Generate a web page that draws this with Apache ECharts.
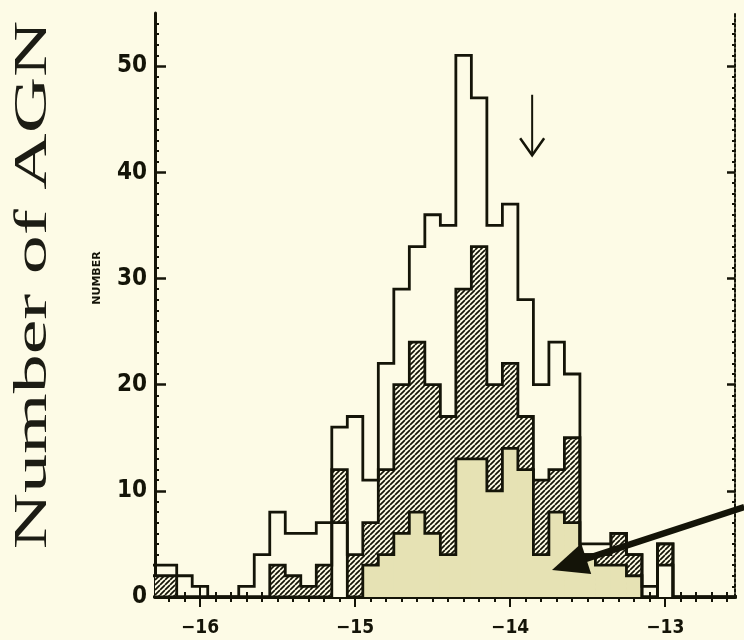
<!DOCTYPE html>
<html>
<head>
<meta charset="utf-8">
<script src="https://cdn.jsdelivr.net/npm/echarts@6/dist/echarts.min.js"></script>
<style>
  html, body { margin: 0; padding: 0; background: #fdfbe6; }
  #chart { width: 744px; height: 640px; }
</style>
</head>
<body>
<div id="chart"></div>
<script>
// Histogram bins: centres in log flux, width 0.1
const binCenters = [-16.3, -16.2, -16.1, -16.0, -15.9, -15.8, -15.7, -15.6, -15.5, -15.4,
                    -15.3, -15.2, -15.1, -15.0, -14.9, -14.8, -14.7, -14.6, -14.5, -14.4,
                    -14.3, -14.2, -14.1, -14.0, -13.9, -13.8, -13.7, -13.6, -13.5, -13.4,
                    -13.3, -13.2, -13.1, -13.0, -12.9, -12.8, -12.7, -12.6];
// All sources (open histogram)
const countAll = [3, 3, 2, 1, 0, 0, 1, 4, 8, 6,
                  6, 7, 16, 17, 11, 22, 29, 33, 36, 35,
                  51, 47, 35, 37, 28, 20, 24, 21, 5, 5,
                  6, 4, 1, 5, 0, 0, 0, 0];
// Hatched subset
const countHatched = [2, 2, 0, 0, 0, 0, 0, 0, 3, 2,
                      1, 3, 12, 4, 7, 12, 20, 24, 20, 17,
                      29, 33, 20, 22, 17, 11, 12, 15, 4, 4,
                      6, 4, 0, 5, 0, 0, 0, 0];
// Inner subset (solid)
const countInner = [0, 0, 0, 0, 0, 0, 0, 0, 0, 0,
                    0, 0, 7, 0, 3, 4, 6, 8, 6, 4,
                    13, 13, 10, 14, 12, 4, 8, 7, 4, 3,
                    3, 2, 0, 3, 0, 0, 0, 0];
const xTickValues = [-16, -15, -14, -13];
const yTickValues = [0, 10, 20, 30, 40, 50];

// Annotation arrows, in data coordinates
const bigArrowTail = [-12.49, 8.47];
const bigArrowTip = [-13.73, 2.54];
const markerArrowTop = [-13.858, 47.3];
const markerArrowTip = [-13.858, 41.6];

const BIN = 0.1;
const XMIN = -16.29, XMAX = -12.55, YMAX = 55;
const BG = '#fdfbe6';
const INK = '#141408';
const BEIGE = '#e6e2b4';
const SHADE_FROM = -14.95, SHADE_TO = -13.15;   // shaded part of the inner histogram

const r1 = v => Math.round(v * 10) / 10;
const xMinor = [];
for (let v = -16.2; v <= -12.6 + 1e-9; v += 0.1) xMinor.push(r1(v));
const yMinor = [];
for (let v = 1; v < YMAX; v++) if (v % 10) yMinor.push(v);

function pairs(counts) { return binCenters.map((c, i) => [c, counts[i]]); }
function padded(counts) {
  return [[r1(binCenters[0] - BIN), 0]].concat(pairs(counts),
         [[r1(binCenters[binCenters.length - 1] + BIN), 0]]);
}

function makeHatch() {
  const s = 5;
  const c = document.createElement('canvas');
  c.width = c.height = s;
  const g = c.getContext('2d');
  g.fillStyle = BG; g.fillRect(0, 0, s, s);
  g.strokeStyle = INK; g.lineWidth = 1.7;
  g.beginPath();
  for (const k of [-s, 0, s]) { g.moveTo(k, s); g.lineTo(k + s, 0); }
  g.stroke();
  return c;
}
const hatch = { image: makeHatch(), repeat: 'repeat' };

function fillSeries(counts, fillFor, z) {
  return {
    type: 'custom', z: z, clip: true, silent: true,
    data: pairs(counts),
    renderItem: function (params, api) {
      const c = api.value(0), v = api.value(1);
      if (v <= 0) return null;
      const p0 = api.coord([c - BIN / 2, v]);
      const p1 = api.coord([c + BIN / 2, 0]);
      return {
        type: 'rect',
        shape: { x: p0[0] - 0.4, y: p0[1], width: p1[0] - p0[0] + 0.8, height: p1[1] - p0[1] },
        style: { fill: fillFor(c), stroke: null }
      };
    }
  };
}
function outlineSeries(counts, z) {
  return {
    type: 'line', z: z, step: 'middle', symbol: 'none', clip: true, silent: true,
    data: padded(counts),
    lineStyle: { color: INK, width: 2.8, join: 'miter' }
  };
}

const axisFont = { color: INK, fontWeight: 'bold', fontFamily: '"Liberation Sans Narrow", "DejaVu Sans Condensed", "DejaVu Sans", sans-serif' };

function xAxes() {
  const base = { type: 'value', min: XMIN, max: XMAX, splitLine: { show: false } };
  return [
    Object.assign({}, base, {
      position: 'bottom',
      axisLine: { show: true, lineStyle: { color: INK, width: 2, type: [3, 2] } },
      axisTick: { show: true, inside: true, length: 10, customValues: xTickValues, lineStyle: { color: INK, width: 2 } },
      axisLabel: Object.assign({ customValues: xTickValues, margin: 22, fontSize: 19,
        formatter: v => '\u2212' + Math.abs(v) }, axisFont)
    }),
    Object.assign({}, base, {
      position: 'bottom',
      axisLine: { show: false },
      axisTick: { show: true, inside: true, length: 5, customValues: xMinor, lineStyle: { color: INK, width: 2 } },
      axisLabel: { show: false }
    }),
    Object.assign({}, base, {
      position: 'top',
      axisLine: { show: true, lineStyle: { color: INK, width: 3 } },
      axisTick: { show: true, inside: true, length: 10, customValues: xTickValues, lineStyle: { color: INK, width: 2 } },
      axisLabel: { show: false }
    }),
    Object.assign({}, base, {
      position: 'top',
      axisLine: { show: false },
      axisTick: { show: true, inside: true, length: 5, customValues: xMinor, lineStyle: { color: INK, width: 2 } },
      axisLabel: { show: false }
    })
  ];
}
function yAxes() {
  const base = { type: 'value', min: 0, max: YMAX, splitLine: { show: false } };
  return [
    Object.assign({}, base, {
      position: 'left',
      axisLine: { show: true, lineStyle: { color: INK, width: 3 } },
      axisTick: { show: true, inside: true, length: 11, customValues: yTickValues, lineStyle: { color: INK, width: 2.5 } },
      axisLabel: Object.assign({ customValues: yTickValues, margin: 8, fontSize: 24 }, axisFont)
    }),
    Object.assign({}, base, {
      position: 'left',
      axisLine: { show: false },
      axisTick: { show: true, inside: true, length: 4, customValues: yMinor, lineStyle: { color: INK, width: 2 } },
      axisLabel: { show: false }
    }),
    Object.assign({}, base, {
      position: 'right',
      axisLine: { show: true, lineStyle: { color: INK, width: 2, type: [3, 2] } },
      axisTick: { show: true, inside: true, length: 8, customValues: yTickValues, lineStyle: { color: INK, width: 2.5 } },
      axisLabel: { show: false }
    }),
    Object.assign({}, base, {
      position: 'right',
      axisLine: { show: false },
      axisTick: { show: true, inside: true, length: 3, customValues: yMinor, lineStyle: { color: INK, width: 2 } },
      axisLabel: { show: false }
    })
  ];
}

const chart = echarts.init(document.getElementById('chart'), null, { renderer: 'canvas' });
chart.setOption({
  animation: false,
  backgroundColor: BG,
  grid: { left: 155, right: 9, top: 13, bottom: 43 },
  xAxis: xAxes(),
  yAxis: yAxes(),
  series: [
    fillSeries(countHatched, () => hatch, 2),
    fillSeries(countInner, c => (c > SHADE_FROM && c < SHADE_TO) ? BEIGE : BG, 3),
    outlineSeries(countAll, 4),
    outlineSeries(countHatched, 5),
    outlineSeries(countInner, 6)
  ]
});

// Titles and arrows, placed through the chart's own coordinate conversion
const toPx = p => chart.convertToPixel({ xAxisIndex: 0, yAxisIndex: 0 }, p);

function bigArrow() {
  const t = toPx(bigArrowTail), h = toPx(bigArrowTip);
  const L = Math.hypot(t[0] - h[0], t[1] - h[1]);
  const ux = (t[0] - h[0]) / L, uy = (t[1] - h[1]) / L;
  const headLen = 36, headHalf = 16;
  const b = [h[0] + ux * headLen, h[1] + uy * headLen];
  return [
    { type: 'line', z: 20, silent: true,
      shape: { x1: t[0], y1: t[1], x2: b[0] - ux * 2, y2: b[1] - uy * 2 },
      style: { stroke: INK, lineWidth: 6.5 } },
    { type: 'polygon', z: 20, silent: true,
      shape: { points: [h, [b[0] - uy * headHalf, b[1] + ux * headHalf], [b[0] + uy * headHalf, b[1] - ux * headHalf]] },
      style: { fill: INK } }
  ];
}
function markerArrow() {
  const a = toPx(markerArrowTop), tip = toPx(markerArrowTip);
  return [
    { type: 'line', z: 20, silent: true,
      shape: { x1: a[0], y1: a[1], x2: tip[0], y2: tip[1] - 1 },
      style: { stroke: INK, lineWidth: 2 } },
    { type: 'polyline', z: 20, silent: true,
      shape: { points: [[tip[0] - 12, tip[1] - 17], [tip[0], tip[1]], [tip[0] + 12, tip[1] - 17]] },
      style: { stroke: INK, lineWidth: 2.5, fill: null } }
  ];
}

chart.setOption({
  graphic: [
    {
      type: 'text', x: 34, y: 285, rotation: Math.PI / 2, scaleX: 1.66, scaleY: 1,
      style: { text: 'Number of AGN', fontFamily: '"Liberation Serif", serif', fontSize: 47,
               fill: '#1c1c14', align: 'center', verticalAlign: 'middle',
               textAlign: 'center', textVerticalAlign: 'middle' }
    },
    {
      type: 'text', x: 97, y: 278, rotation: Math.PI / 2,
      style: { text: 'NUMBER', fontFamily: '"DejaVu Sans", sans-serif', fontWeight: 'bold', fontSize: 11,
               fill: INK, align: 'center', verticalAlign: 'middle',
               textAlign: 'center', textVerticalAlign: 'middle' }
    }
  ].concat(bigArrow(), markerArrow())
});
</script>
</body>
</html>
